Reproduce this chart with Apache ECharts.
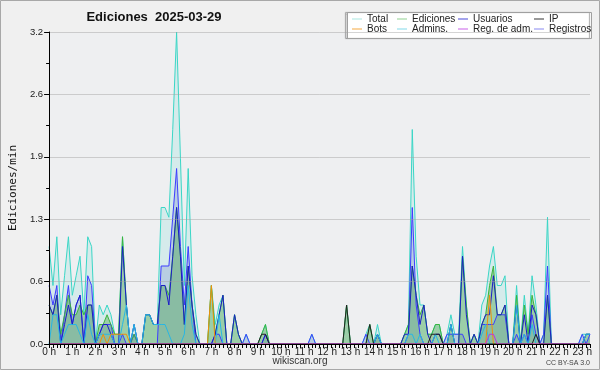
<!DOCTYPE html>
<html>
<head>
<meta charset="utf-8">
<script src="https://cdn.jsdelivr.net/npm/echarts@6/dist/echarts.min.js"></script>
<style>
  html, body { margin: 0; padding: 0; background: #f0f0f0; }
  #chart { width: 600px; height: 370px; }
</style>
</head>
<body>
<div id="chart"></div>
<script>
// 10 minute buckets from 0:00 to 23:20, values are edits per minute
const times = [];
for (let i = 0; i <= 140; i++) {
  times.push(Math.floor(i / 6) + ':' + String((i % 6) * 10).padStart(2, '0'));
}

const total = [
  1.0, 0.6, 1.1, 0.3, 0.7, 1.1, 0.5, 0.7, 0.9, 0.3, 1.1, 1.0,
  0, 0.4, 0.3, 0.4, 0.3, 0.1, 0.1, 1.1, 0.4, 0, 0.2, 0,
  0, 0.3, 0.3, 0.2, 0.2, 1.4, 1.4, 1.3, 2.2, 3.2, 1.9, 0.6,
  1.8, 0.7, 0.3, 0, 0, 0, 0.6, 0.2, 0.4, 0.5, 0, 0,
  0.3, 0.1, 0, 0.1, 0, 0, 0, 0.1, 0.2, 0, 0, 0,
  0, 0, 0, 0, 0, 0, 0, 0, 0.1, 0, 0, 0,
  0, 0, 0, 0, 0, 0.4, 0, 0, 0, 0, 0.1, 0.2,
  0, 0.2, 0, 0, 0, 0, 0, 0, 0.1, 0.2, 2.2, 0.9,
  0.4, 0.4, 0.1, 0.1, 0.2, 0.2, 0, 0.1, 0.3, 0.1, 0.1, 1.0,
  0.4, 0, 0.1, 0, 0.4, 0.5, 0.8, 1.0, 0.6, 0.6, 0.7, 0,
  0, 0.6, 0, 0.5, 0.1, 0.7, 0.4, 0, 0.1, 1.3, 0, 0,
  0, 0, 0, 0, 0, 0, 0.1, 0.1, 0.1
];
const ediciones = [
  0.4, 0.3, 0.5, 0.1, 0.3, 0.5, 0.3, 0.3, 0.4, 0.3, 0.4, 0.4,
  0, 0.2, 0.2, 0.3, 0.2, 0.1, 0.1, 1.1, 0.4, 0, 0.1, 0,
  0, 0.3, 0.3, 0.2, 0.2, 0.6, 0.6, 0.5, 0.9, 1.4, 0.9, 0.2,
  0.8, 0.4, 0.1, 0, 0, 0, 0.6, 0.1, 0.3, 0.5, 0, 0,
  0.3, 0.1, 0, 0, 0, 0, 0, 0.1, 0.2, 0, 0, 0,
  0, 0, 0, 0, 0, 0, 0, 0, 0, 0, 0, 0,
  0, 0, 0, 0, 0, 0.4, 0, 0, 0, 0, 0, 0.2,
  0, 0.1, 0, 0, 0, 0, 0, 0, 0.1, 0.2, 0.8, 0.5,
  0.3, 0.4, 0.1, 0.1, 0.2, 0.2, 0, 0, 0.2, 0, 0, 0.9,
  0.4, 0, 0.1, 0, 0.2, 0.3, 0.6, 0.8, 0.3, 0.3, 0.4, 0,
  0, 0.5, 0, 0.4, 0.1, 0.5, 0.3, 0, 0, 0.5, 0, 0,
  0, 0, 0, 0, 0, 0, 0, 0.1, 0.1
];
const usuarios = [
  0.4, 0.3, 0.5, 0, 0.2, 0.4, 0.2, 0.4, 0.5, 0, 0.4, 0.4,
  0, 0.1, 0.2, 0.2, 0.1, 0, 0, 1.0, 0.4, 0, 0.2, 0,
  0, 0.3, 0.3, 0.2, 0.2, 0.6, 0.6, 0.4, 0.9, 1.4, 0.9, 0.2,
  0.8, 0.4, 0.1, 0, 0, 0, 0, 0.1, 0.3, 0.5, 0, 0,
  0.3, 0.1, 0, 0, 0, 0, 0, 0, 0.1, 0, 0, 0,
  0, 0, 0, 0, 0, 0, 0, 0, 0, 0, 0, 0,
  0, 0, 0, 0, 0, 0, 0, 0, 0, 0, 0, 0,
  0, 0.1, 0, 0, 0, 0, 0, 0, 0.1, 0.1, 0.8, 0.5,
  0.2, 0.4, 0.1, 0, 0.1, 0.1, 0, 0, 0.2, 0, 0, 0.9,
  0.3, 0, 0.1, 0, 0.2, 0.3, 0.3, 0.7, 0.3, 0.3, 0.4, 0,
  0, 0.4, 0, 0.3, 0, 0.4, 0.3, 0, 0, 0.5, 0, 0,
  0, 0, 0, 0, 0, 0, 0, 0.1, 0.1
];
const ip = [
  0, 0, 0, 0, 0, 0, 0, 0, 0, 0, 0, 0,
  0, 0, 0, 0, 0, 0, 0, 0, 0, 0, 0, 0,
  0, 0, 0, 0, 0, 0, 0, 0, 0, 0, 0, 0,
  0, 0, 0, 0, 0, 0, 0, 0, 0, 0, 0, 0,
  0, 0, 0, 0, 0, 0, 0, 0.1, 0.1, 0, 0, 0,
  0, 0, 0, 0, 0, 0, 0, 0, 0, 0, 0, 0,
  0, 0, 0, 0, 0, 0.4, 0, 0, 0, 0, 0, 0.2,
  0, 0, 0, 0, 0, 0, 0, 0, 0, 0, 0, 0,
  0, 0, 0, 0.1, 0.1, 0.1, 0, 0, 0, 0, 0, 0,
  0, 0, 0, 0, 0, 0, 0, 0, 0, 0, 0, 0,
  0, 0, 0, 0, 0, 0, 0.1, 0, 0, 0, 0, 0,
  0, 0, 0, 0, 0, 0, 0, 0, 0
];
const bots = [
  0, 0, 0, 0, 0, 0, 0, 0, 0, 0, 0, 0,
  0, 0, 0.1, 0, 0.1, 0.1, 0.1, 0.1, 0.1, 0, 0, 0,
  0, 0, 0, 0, 0, 0, 0, 0, 0, 0, 0, 0,
  0, 0, 0, 0, 0, 0, 0.6, 0, 0, 0, 0, 0,
  0, 0, 0, 0, 0, 0, 0, 0, 0, 0, 0, 0,
  0, 0, 0, 0, 0, 0, 0, 0, 0, 0, 0, 0,
  0, 0, 0, 0, 0, 0, 0, 0, 0, 0, 0, 0,
  0, 0, 0, 0, 0, 0, 0, 0, 0, 0, 0, 0,
  0, 0, 0, 0, 0, 0, 0, 0, 0, 0, 0, 0,
  0, 0, 0, 0, 0, 0, 0.5, 0, 0, 0, 0, 0,
  0, 0, 0, 0, 0, 0, 0, 0, 0, 0, 0, 0,
  0, 0, 0, 0, 0, 0, 0, 0, 0
];
const admins = [
  0, 0.3, 0.3, 0, 0.1, 0.2, 0.2, 0.2, 0.1, 0, 0.3, 0.1,
  0, 0.1, 0.1, 0.1, 0.1, 0, 0, 0.2, 0.4, 0, 0.2, 0,
  0, 0.3, 0.3, 0.2, 0.2, 0.2, 0.2, 0.1, 0, 0, 0, 0.1,
  0.6, 0.2, 0, 0, 0, 0, 0, 0, 0.3, 0, 0, 0,
  0, 0, 0, 0, 0, 0, 0, 0, 0, 0, 0, 0,
  0, 0, 0, 0, 0, 0, 0, 0, 0, 0, 0, 0,
  0, 0, 0, 0, 0, 0, 0, 0, 0, 0, 0, 0,
  0, 0.1, 0, 0, 0, 0, 0, 0, 0, 0.1, 0.1, 0,
  0.1, 0, 0, 0, 0.1, 0, 0, 0, 0.2, 0, 0, 0,
  0, 0, 0, 0, 0.1, 0.2, 0, 0, 0, 0, 0, 0,
  0, 0.4, 0, 0.1, 0, 0.2, 0, 0, 0, 0, 0, 0,
  0, 0, 0, 0, 0, 0, 0, 0.1, 0.1
];
const regAdm = [
  0, 0, 0, 0, 0, 0, 0, 0, 0, 0, 0, 0,
  0, 0, 0, 0, 0, 0, 0, 0, 0, 0, 0, 0,
  0, 0, 0, 0, 0, 0, 0, 0, 0, 0, 0, 0,
  0, 0, 0, 0, 0, 0, 0, 0, 0, 0, 0, 0,
  0, 0, 0, 0, 0, 0, 0, 0, 0, 0, 0, 0,
  0, 0, 0, 0, 0, 0, 0, 0, 0, 0, 0, 0,
  0, 0, 0, 0, 0, 0, 0, 0, 0, 0, 0, 0,
  0, 0, 0, 0, 0, 0, 0, 0, 0, 0, 0, 0,
  0, 0, 0, 0, 0, 0, 0, 0, 0, 0, 0, 0,
  0, 0, 0, 0, 0, 0, 0.1, 0.1, 0, 0, 0, 0,
  0, 0, 0, 0, 0, 0, 0, 0, 0, 0, 0, 0,
  0, 0, 0, 0, 0, 0, 0, 0, 0
];
const registros = [
  0.6, 0.4, 0.6, 0, 0.3, 0.6, 0.2, 0.4, 0.5, 0, 0.7, 0.6,
  0, 0.1, 0.2, 0.2, 0.2, 0, 0, 0.1, 0, 0, 0.1, 0,
  0, 0, 0, 0, 0, 0.8, 0.8, 0.8, 1.3, 1.8, 1.0, 0.4,
  1.0, 0.4, 0, 0, 0, 0, 0, 0.1, 0.1, 0, 0, 0,
  0, 0, 0, 0.1, 0, 0, 0, 0, 0.1, 0, 0, 0,
  0, 0, 0, 0, 0, 0, 0, 0, 0.1, 0, 0, 0,
  0, 0, 0, 0, 0, 0, 0, 0, 0, 0, 0.1, 0,
  0, 0.1, 0, 0, 0, 0, 0, 0, 0, 0.1, 1.4, 0.4,
  0.1, 0, 0, 0, 0, 0, 0, 0.1, 0.1, 0.1, 0.1, 0.1,
  0, 0, 0, 0, 0.2, 0.2, 0.2, 0.2, 0.3, 0.3, 0.3, 0,
  0, 0.1, 0, 0.1, 0, 0.3, 0.1, 0, 0.1, 0.8, 0, 0,
  0, 0, 0, 0, 0, 0, 0.1, 0, 0.1
];

const yTicks = [0, 0.64, 1.28, 1.92, 2.56, 3.2];
const font = 'Liberation Sans';

function line(name, data, color, area) {
  const s = {
    name: name,
    type: 'line',
    data: data,
    symbol: 'none',
    color: color,
    lineStyle: { color: color, width: 1 },
  };
  if (area) {
    s.areaStyle = { color: area[0], opacity: area[1] };
  }
  return s;
}

function legendCol(left, names) {
  return {
    orient: 'vertical',
    left: left,
    top: 14,
    padding: 0,
    itemGap: 0,
    itemWidth: 10,
    itemHeight: 1,
    icon: 'rect',
    selectedMode: false,
    textStyle: { fontFamily: font, fontSize: 10, color: '#222', lineHeight: 10 },
    data: names,
  };
}

const chart = echarts.init(document.getElementById('chart'));
chart.setOption({
  animation: false,
  backgroundColor: '#f0f0f0',
  grid: {
    left: 46,
    right: 10,
    top: 32,
    bottom: 26,
    show: true,
    backgroundColor: '#eeeff1',
    borderWidth: 0,
  },
  legend: [
    legendCol(352, [
      { name: 'Total', itemStyle: { color: '#a8e6e0' } },
      { name: 'Bots', itemStyle: { color: '#f5a840' } },
    ]),
    legendCol(397, [
      { name: 'Ediciones', itemStyle: { color: '#90d090' } },
      { name: 'Admins.', itemStyle: { color: '#80d8e8' } },
    ]),
    legendCol(458, [
      { name: 'Usuarios', itemStyle: { color: '#4848d8' } },
      { name: 'Reg. de adm.', itemStyle: { color: '#c860e8' } },
    ]),
    legendCol(534, [
      { name: 'IP', itemStyle: { color: '#333333' } },
      { name: 'Registros', itemStyle: { color: '#8888f0' } },
    ]),
  ],
  graphic: [
    {
      type: 'rect',
      z: 0,
      shape: { x: 347.5, y: 12.5, width: 244, height: 26 },
      style: {
        fill: '#ffffff',
        stroke: '#a0a0a0',
        lineWidth: 1,
        shadowColor: 'rgba(0,0,0,0.35)',
        shadowOffsetX: -2,
        shadowBlur: 1,
      },
    },
    {
      type: 'rect',
      z: 0,
      shape: { x: 0.5, y: 0.5, width: 599, height: 369 },
      style: { fill: null, stroke: '#a8a8a8', lineWidth: 1 },
    },
    {
      type: 'text',
      x: 154,
      y: 17,
      style: {
        text: 'Ediciones  2025-03-29',
        font: 'bold 13px "Liberation Sans"',
        fill: '#111',
        align: 'center',
        verticalAlign: 'middle',
      },
    },
    {
      type: 'text',
      x: 300,
      y: 361,
      style: {
        text: 'wikiscan.org',
        font: '10px "Liberation Sans"',
        fill: '#333',
        align: 'center',
        verticalAlign: 'middle',
      },
    },
    {
      type: 'text',
      x: 590,
      y: 363,
      style: {
        text: 'CC BY-SA 3.0',
        font: '7px "Liberation Sans"',
        fill: '#444',
        align: 'right',
        verticalAlign: 'middle',
      },
    },
  ],
  xAxis: {
    type: 'category',
    data: times,
    boundaryGap: false,
    z: 5,
    axisLine: { lineStyle: { color: '#000', width: 1 } },
    axisTick: { show: true, interval: 0, length: 4, lineStyle: { color: '#000' } },
    axisLabel: {
      interval: 5,
      margin: 3,
      fontFamily: font,
      fontSize: 10,
      color: '#222',
      formatter: (v) => v.split(':')[0] + ' h',
    },
    splitLine: { show: false },
  },
  yAxis: {
    type: 'value',
    min: yTicks[0],
    max: yTicks[yTicks.length - 1],
    interval: yTicks[1],
    z: 5,
    name: 'Ediciones/min',
    nameLocation: 'middle',
    nameGap: 28,
    nameTextStyle: { fontFamily: 'DejaVu Sans Mono', fontSize: 11, color: '#111' },
    axisLine: { show: true, lineStyle: { color: '#000', width: 1 } },
    axisTick: { show: true, length: 5, lineStyle: { color: '#000' } },
    minorTick: { show: true, splitNumber: 2, length: 3, lineStyle: { color: '#000' } },
    splitLine: { lineStyle: { color: 'rgba(160,160,160,0.45)', width: 1 } },
    axisLabel: {
      margin: 6,
      fontFamily: font,
      fontSize: 9.5,
      color: '#222',
      formatter: (v) => v.toFixed(1),
    },
  },
  series: [
    line('Total', total, '#3ad6c6', ['#40d6c8', 0.14]),
    line('Registros', registros, '#3c3cff', ['#6478c8', 0.25]),
    line('Ediciones', ediciones, '#3cb43c', ['#3ca03c', 0.38]),
    line('Usuarios', usuarios, '#1c1cc8'),
    line('Admins.', admins, '#28b6e4'),
    line('Bots', bots, '#f0900a'),
    line('IP', ip, '#222222'),
    line('Reg. de adm.', regAdm, '#c030e0'),
  ],
});
</script>
</body>
</html>
